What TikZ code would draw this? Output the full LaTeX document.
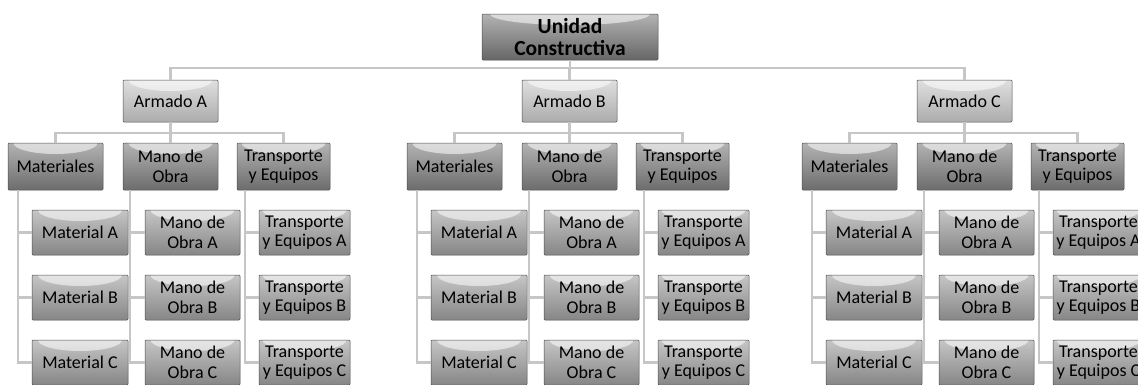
\documentclass[tikz,border=0pt]{standalone}
\usepackage{fontspec}
\setmainfont{Carlito}
\begin{document}
\begin{tikzpicture}[x=1pt,y=-1pt,
  gloss/.style={path picture={\fill[white,opacity=0.55] (path picture bounding box.north) ellipse [x radius=#1, y radius=11pt];}},
  box/.style={draw=gray!60!black, line width=0.5pt, inner sep=0pt, align=center, text=black, rounded corners=1pt,
    font=\fontsize{18}{19.5}\selectfont},
  topbox/.style={box, top color=gray!60, bottom color=gray!80!black, gloss=80pt,
    minimum width=176pt, minimum height=46pt, font=\fontsize{21.5}{22.5}\selectfont\bfseries},
  armbox/.style={box, top color=gray!25, bottom color=gray!65, gloss=42pt,
    minimum width=95pt, minimum height=42pt},
  catbox/.style={box, top color=gray!60, bottom color=gray!85!black, gloss=42pt,
    minimum width=94pt, minimum height=47pt},
  itembox/.style={box, top color=gray!45, bottom color=gray!95, gloss=42pt,
    minimum width=93pt, minimum height=45pt},
  conn/.style={draw=gray!45, line width=2.2pt}
]
\useasboundingbox (0,0) rectangle (1138,384);
\node[topbox] (top) at (570,37) {Unidad\\Constructiva};
\coordinate (hub) at (570,68);
\draw[conn] (top.south) -- (hub);
\foreach \g/\dx in {A/0,B/399,C/794}{
  \node[armbox] (arm\g) at (170.5+\dx,101) {Armado \g};
  \draw[conn] (hub) -| (arm\g.north);
  \node[catbox, minimum width=95pt] (mat\g) at (55.5+\dx,166.5) {Materiales};
  \node[catbox, minimum width=95pt] (man\g) at (170.5+\dx,166.5) {Mano de\\Obra};
  \node[catbox, minimum width=93pt] (tra\g) at (283.5+\dx,166.5) {Transporte\\y Equipos};
  \coordinate (h\g) at (170.5+\dx,133);
  \draw[conn] (arm\g.south) -- (h\g);
  \draw[conn] (h\g) -| (mat\g.north);
  \draw[conn] (h\g) -- (man\g.north);
  \draw[conn] (h\g) -| (tra\g.north);
  \foreach \r/\y in {A/232.5,B/297.5,C/362.5}{
    \node[itembox, minimum width=96pt] (mat\g\r) at (80+\dx,\y) {Material \r};
    \node[itembox, minimum width=95pt] (man\g\r) at (192.5+\dx,\y) {Mano de\\Obra \r};
    \node[itembox, minimum width=91pt] (tra\g\r) at (304.5+\dx,\y) {Transporte\\y Equipos \r};
    \draw[conn] ([xshift=10pt]mat\g.south west) |- (mat\g\r.west);
    \draw[conn] ([xshift=7pt]man\g.south west) |- (man\g\r.west);
    \draw[conn] ([xshift=8pt]tra\g.south west) |- (tra\g\r.west);
  }
}
\end{tikzpicture}
\end{document}
